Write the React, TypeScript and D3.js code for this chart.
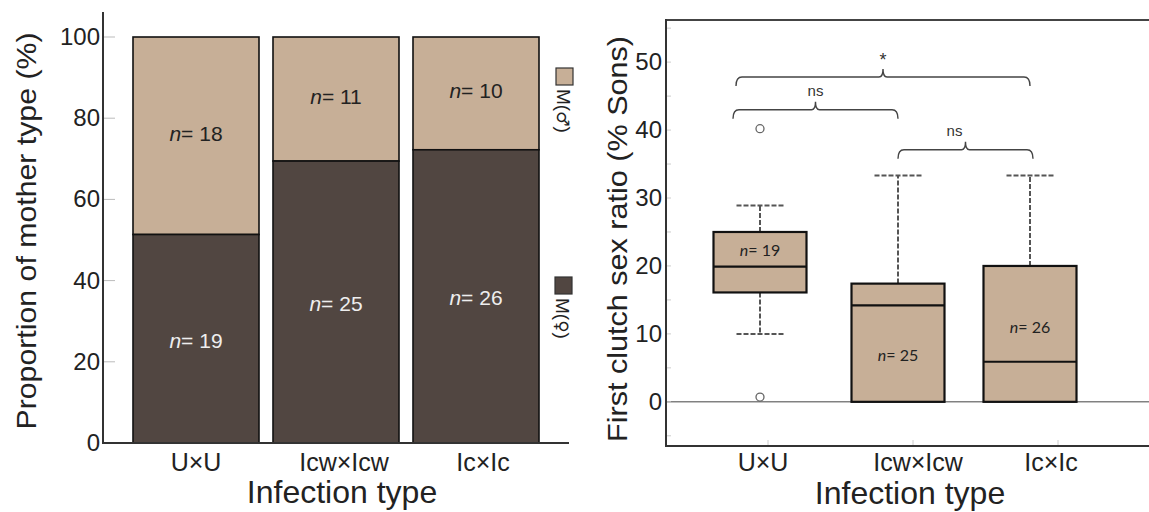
import React from "react";
import * as d3 from "d3";

// ---------- data ----------
const categories = ["U×U", "Icw×Icw", "Ic×Ic"];
const femaleCounts = [19, 25, 26]; // M(♀)
const maleCounts = [18, 11, 10]; // M(♂)
const leftTicks = [0, 20, 40, 60, 80, 100];

const boxQ1 = [16.1, 0, 0];
const boxMedian = [19.9, 14.2, 5.9];
const boxQ3 = [25.0, 17.4, 20.0];
const whiskerLow = [10.0, 0, 0];
const whiskerHigh = [28.9, 33.3, 33.3];
const outliers = [[40.2, 0.7], [], []];
const boxN = [19, 25, 26];
const rightTicks = [0, 10, 20, 30, 40, 50];
const rightMinorTicks = [-5, 5, 15, 25, 35, 45, 55];

const brackets = [
  { from: 0, to: 2, y: 47.8, label: "*" },
  { from: 0, to: 1, y: 43.0, label: "ns" },
  { from: 1, to: 2, y: 37.1, label: "ns" },
];

const TAN = "#c7af97";
const DARK = "#514641";
const FONT = "'Liberation Sans', Arial, sans-serif";
const SYM = "'DejaVu Sans', sans-serif";

export default function App() {
  // ----- left chart scales -----
  const yL = d3.scaleLinear().domain([0, 100]).range([443, 37]);
  const xL = d3.scaleBand().domain(categories).range([126, 546]).paddingInner(0.1).paddingOuter(0.05);
  const pct = femaleCounts.map((f, i) => (100 * f) / (f + maleCounts[i]));
  const leftLabelShift = [0, 8, 7];

  // ----- right chart scales -----
  const yR = d3.scaleLinear().domain([-6.5, 56.2]).range([446, 20]);
  const boxCenters = [760, 898, 1030];
  const xTickR = d3.scalePoint().domain(categories).range([768, 1058]);
  const rightLabelShift = [-5, 5, -7];
  const boxW = 93;
  const capW = 47;

  const bracketPath = (x1: number, x2: number, yv: number) => {
    const y = yR(yv);
    const xm = (x1 + x2) / 2;
    return `M${x1},${y + 9} Q${x1},${y} ${x1 + 6},${y} L${xm - 4},${y} Q${xm},${y} ${xm},${y - 8} Q${xm},${y} ${xm + 4},${y} L${x2 - 6},${y} Q${x2},${y} ${x2},${y + 9}`;
  };

  return (
    <svg width={1149} height={512} style={{ position: "absolute", left: 0, top: 0, background: "#fff" }} fontFamily={FONT}>
      {/* ================= LEFT CHART ================= */}
      {categories.map((c, i) => {
        const x0 = xL(c)!;
        const w = xL.bandwidth();
        return (
          <g key={c}>
            <rect x={x0} y={yL(100)} width={w} height={yL(pct[i]) - yL(100)} fill={TAN} stroke="#111" strokeWidth={1.6} />
            <rect x={x0} y={yL(pct[i])} width={w} height={yL(0) - yL(pct[i])} fill={DARK} stroke="#111" strokeWidth={1.6} />
            <text x={x0 + w / 2} y={(yL(100) + yL(pct[i])) / 2 + 5} textAnchor="middle" fontSize={21} fill="#222">
              <tspan fontStyle="italic">n</tspan>= {maleCounts[i]}
            </text>
            <text x={x0 + w / 2} y={(yL(0) + yL(pct[i])) / 2 + 9} textAnchor="middle" fontSize={21} fill="#eee">
              <tspan fontStyle="italic">n</tspan>= {femaleCounts[i]}
            </text>
            <text x={x0 + w / 2 + leftLabelShift[i]} y={471} textAnchor="middle" fontSize={25} fill="#222">{c}</text>
          </g>
        );
      })}
      {leftTicks.map((t) => (
        <g key={t}>
          <line x1={103} x2={115} y1={yL(t)} y2={yL(t)} stroke="#bbb" strokeWidth={1} />
          <text x={100} y={yL(t) + 8} textAnchor="end" fontSize={24} fill="#222">{t}</text>
        </g>
      ))}
      <line x1={103} x2={103} y1={12} y2={443} stroke="#333" strokeWidth={2} />
      <line x1={102} x2={569} y1={443} y2={443} stroke="#333" strokeWidth={2} />
      <text transform={`translate(36,231) rotate(-90)`} textAnchor="middle" fontSize={28} fill="#222" textLength={397} lengthAdjust="spacingAndGlyphs">
        Proportion of mother type (%)
      </text>
      <text x={342} y={503} textAnchor="middle" fontSize={32} fill="#222">Infection type</text>

      {/* legend */}
      <rect x={556} y={68} width={17} height={17} fill={TAN} stroke="#333" strokeWidth={1.2} />
      <text transform="translate(557,89) rotate(90)" fontSize={19} fill="#222">
        M(<tspan fontFamily={SYM} fontSize={17}>♂</tspan>)
      </text>
      <rect x={555} y={277} width={17} height={17} fill={DARK} stroke="#333" strokeWidth={1.2} />
      <text transform="translate(556,298) rotate(90)" fontSize={19} fill="#222">
        M(<tspan fontFamily={SYM} fontSize={17}>♀</tspan>)
      </text>

      {/* ================= RIGHT CHART ================= */}
      <line x1={666} x2={1149} y1={yR(0)} y2={yR(0)} stroke="#444" strokeWidth={1} />
      {rightMinorTicks.concat(rightTicks).map((t) => (
        <line key={"m" + t} x1={666} x2={671} y1={yR(t)} y2={yR(t)} stroke="#ccc" strokeWidth={1} />
      ))}
      {rightTicks.map((t) => (
        <text key={t} x={662} y={yR(t) + 8} textAnchor="end" fontSize={24} fill="#222">{t}</text>
      ))}
      {categories.map((c, i) => (
        <g key={"xt" + c}>
          <line x1={xTickR(c)!} x2={xTickR(c)!} y1={446} y2={440} stroke="#ccc" strokeWidth={1} />
          <text x={xTickR(c)! + rightLabelShift[i]} y={471} textAnchor="middle" fontSize={25} fill="#222">{c}</text>
        </g>
      ))}

      {categories.map((c, i) => {
        const cx = boxCenters[i];
        return (
          <g key={"box" + c}>
            <line x1={cx} x2={cx} y1={yR(boxQ3[i])} y2={yR(whiskerHigh[i])} stroke="#555" strokeWidth={2} strokeDasharray="5,2" />
            <line x1={cx - capW / 2} x2={cx + capW / 2} y1={yR(whiskerHigh[i])} y2={yR(whiskerHigh[i])} stroke="#555" strokeWidth={2} strokeDasharray="5,2" />
            {whiskerLow[i] < boxQ1[i] && (
              <>
                <line x1={cx} x2={cx} y1={yR(boxQ1[i])} y2={yR(whiskerLow[i])} stroke="#555" strokeWidth={2} strokeDasharray="5,2" />
                <line x1={cx - capW / 2} x2={cx + capW / 2} y1={yR(whiskerLow[i])} y2={yR(whiskerLow[i])} stroke="#555" strokeWidth={2} strokeDasharray="5,2" />
              </>
            )}
            <rect x={cx - boxW / 2} y={yR(boxQ3[i])} width={boxW} height={yR(boxQ1[i]) - yR(boxQ3[i])} fill={TAN} stroke="#111" strokeWidth={2.2} />
            <line x1={cx - boxW / 2} x2={cx + boxW / 2} y1={yR(boxMedian[i])} y2={yR(boxMedian[i])} stroke="#111" strokeWidth={2.2} />
            {outliers[i].map((o, j) => (
              <circle key={j} cx={cx} cy={yR(o)} r={4} fill="#fff" stroke="#666" strokeWidth={1.3} />
            ))}
          </g>
        );
      })}
      {[22.2, 6.8, 10.8].map((v, i) => (
        <text key={"n" + i} x={boxCenters[i]} y={yR(v) + 5} textAnchor="middle" fontSize={16} fill="#222" fontFamily="Lato, 'Open Sans', sans-serif">
          <tspan fontStyle="italic">n</tspan>= {boxN[i]}
        </text>
      ))}

      {/* brackets */}
      {brackets.map((b, k) => {
        const x1 = boxCenters[b.from] - (k === 1 ? 27 : k === 0 ? 24 : 0);
        const x2 = boxCenters[b.to] + (k === 2 ? 3 : 0);
        const xm = (x1 + x2) / 2;
        return (
          <g key={"br" + k}>
            <path d={bracketPath(x1, x2, b.y)} fill="none" stroke="#444" strokeWidth={1.4} />
            <text x={xm - (k === 2 ? 11 : 0)} y={yR(b.y) - (b.label === "*" ? 11 : 14)} textAnchor="middle" fontSize={b.label === "*" ? 18 : 15} fill="#333">{b.label}</text>
          </g>
        );
      })}

      {/* frame */}
      <line x1={666} x2={1149} y1={20} y2={20} stroke="#444" strokeWidth={2} />
      <line x1={666} x2={666} y1={19} y2={447} stroke="#333" strokeWidth={2} />
      <line x1={665} x2={1149} y1={446} y2={446} stroke="#333" strokeWidth={2} />

      <text transform={`translate(627,239) rotate(-90)`} textAnchor="middle" fontSize={28} fill="#222" textLength={406} lengthAdjust="spacingAndGlyphs">
        First clutch sex ratio (% Sons)
      </text>
      <text x={910} y={504} textAnchor="middle" fontSize={32} fill="#222">Infection type</text>
    </svg>
  );
}
